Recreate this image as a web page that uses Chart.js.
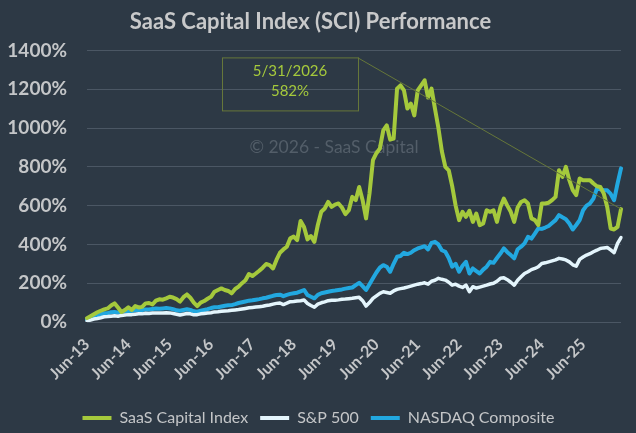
<!DOCTYPE html>
<html>
<head>
<meta charset="utf-8">
<title>SaaS Capital Index (SCI) Performance</title>
<script src="https://cdn.jsdelivr.net/npm/chart.js@4.4.1/dist/chart.umd.min.js"></script>
<style>
    html, body { margin: 0; padding: 0; background: #2d3945; }
    #chart-wrap { width: 636px; height: 433px; position: relative; }
</style>
</head>
<body>
<div id="chart-wrap"><canvas id="line-chart"></canvas></div>
<script>
// monthly series, Jun 2013 .. May 2026 (cumulative % return)
const startYear = 2013;
const startMonth = 5; // June, 0-based
const monthNames = ['Jan', 'Feb', 'Mar', 'Apr', 'May', 'Jun', 'Jul', 'Aug', 'Sep', 'Oct', 'Nov', 'Dec'];

const sciValues = [
    20, 30, 40, 50, 58, 65, 70, 85, 96, 75,
    52, 62, 76, 62, 82, 75, 78, 96, 98, 90,
    110, 117, 115, 122, 130, 126, 118, 105, 128, 142,
    125, 100, 82, 100, 108, 120, 130, 156, 165, 173,
    165, 160, 148, 170, 182, 200, 215, 247, 237, 250,
    264, 280, 299, 293, 276, 320, 357, 374, 388, 431,
    440, 422, 521, 490, 426, 443, 413, 500, 568, 585,
    619, 593, 605, 611, 590, 556, 576, 645, 628, 696,
    628, 534, 662, 834, 870, 894, 988, 1014, 940, 945,
    1203, 1220, 1194, 1100, 1126, 1065, 1194, 1220, 1246, 1157,
    1203, 1100, 1000, 880, 800, 782, 700, 600, 525, 568,
    542, 573, 516, 559, 499, 508, 576, 568, 576, 516,
    593, 636, 600, 568, 516, 590, 619, 628, 611, 534,
    525, 499, 611, 611, 615, 628, 645, 782, 748, 800,
    731, 680, 654, 740, 731, 731, 731, 714, 700, 696,
    662, 593, 482, 477, 490, 582
];

const spValues = [
    5, 10, 15, 18, 22, 27, 28, 30, 32, 30,
    34, 36, 38, 38, 40, 42, 42, 45, 44, 46,
    47, 46, 47, 48, 47, 44, 40, 36, 40, 44,
    42, 37, 38, 42, 44, 46, 48, 52, 53, 55,
    57, 58, 60, 62, 64, 67, 70, 73, 75, 77,
    79, 81, 85, 88, 92, 96, 98, 90, 97, 105,
    106, 108, 110, 113, 95, 85, 76, 92, 99, 104,
    110, 112, 112, 114, 117, 118, 120, 122, 125, 127,
    110, 82, 100, 122, 135, 148, 156, 152, 148, 160,
    168, 172, 175, 180, 185, 190, 195, 198, 202, 195,
    210, 215, 225, 220, 216, 205, 190, 195, 185, 178,
    190, 156, 182, 175, 180, 185, 190, 196, 200, 210,
    225, 228, 218, 205, 190, 215, 233, 250, 259, 270,
    276, 285, 302, 305, 310, 315, 320, 328, 325, 320,
    310, 295, 288, 323, 335, 345, 352, 362, 370, 379,
    382, 384, 372, 357, 405, 435
];

const nasdaqValues = [
    12, 20, 28, 35, 40, 45, 45, 50, 52, 48,
    53, 55, 58, 57, 60, 62, 62, 65, 64, 67,
    70, 68, 70, 72, 70, 66, 60, 58, 62, 66,
    62, 55, 53, 58, 62, 66, 72, 76, 76, 80,
    84, 86, 87, 92, 98, 102, 106, 110, 112, 115,
    118, 122, 125, 130, 135, 139, 141, 133, 140, 145,
    148, 151, 158, 165, 139, 130, 122, 140, 148, 152,
    156, 160, 162, 165, 168, 172, 175, 178, 190, 202,
    185, 165, 195, 225, 255, 280, 293, 285, 259, 300,
    336, 340, 357, 350, 357, 370, 379, 385, 391, 374,
    408, 413, 400, 370, 362, 330, 285, 300, 259, 290,
    310, 250, 276, 262, 250, 270, 285, 310, 305, 330,
    353, 379, 360, 345, 328, 375, 388, 405, 439, 430,
    456, 482, 480, 487, 495, 510, 525, 551, 540, 530,
    508, 477, 500, 525, 576, 600, 611, 636, 688, 684,
    679, 679, 660, 628, 714, 792
];

const seriesNames = ['SaaS Capital Index', 'S&P 500', 'NASDAQ Composite'];
const yMax = 1400;
const yStep = 200;
const noteDate = '5/31/2026';
const watermark = '\u00A9 2026 - SaaS Capital';

(() => {
    'use strict';

    // month labels like "Jun-13"
    let labels = [];
    for (let i = 0; i < sciValues.length; i++) {
        let m = (startMonth + i) % 12;
        let y = startYear + Math.floor((startMonth + i) / 12);
        labels.push(monthNames[m] + '-' + String(y).slice(2));
    }

    const textColor = '#c4c6c8';
    const gridColor = '#4b5764';

    // watermark behind the lines, callout box on top
    const notePlugin = {
        id: 'note',
        afterLayout(chart) {
            // legend sits a bit right of the canvas centre
            chart.legend.left += 8;
            chart.legend.right += 8;
        },
        beforeDatasetsDraw(chart) {
            const {ctx, chartArea} = chart;
            ctx.save();
            ctx.font = '17.5px Lato';
            ctx.fillStyle = '#535e69';
            ctx.textAlign = 'center';
            ctx.textBaseline = 'middle';
            ctx.fillText(watermark, chartArea.left + 247, chartArea.top + 97);
            ctx.restore();
        },
        afterDatasetsDraw(chart) {
            const {ctx, chartArea, scales} = chart;
            let last = sciValues.length - 1;
            let px = scales.x.getPixelForValue(last);
            let py = scales.y.getPixelForValue(sciValues[last]);
            let bx = chartArea.left + 135;
            let by = chartArea.top + 7;
            let bw = 136;
            let bh = 53;

            ctx.save();
            ctx.strokeStyle = '#66773a';
            ctx.lineWidth = 1;
            ctx.beginPath();
            ctx.moveTo(bx + bw, by + 0.5);
            ctx.lineTo(px, py);
            ctx.stroke();
            ctx.strokeRect(bx + 0.5, by + 0.5, bw, bh);

            ctx.fillStyle = '#a5c93c';
            ctx.font = '15px Lato';
            ctx.textAlign = 'center';
            ctx.textBaseline = 'middle';
            ctx.fillText(noteDate, bx + bw / 2, by + 14);
            ctx.fillText(Math.round(sciValues[last]) + '%', bx + bw / 2, by + 34);
            ctx.restore();
        }
    };

    const lineData = {
        labels: labels,
        datasets: [
            {
                label: seriesNames[0],
                data: sciValues,
                borderColor: '#a5c93c',
                backgroundColor: '#a5c93c',
                borderWidth: 4
            },
            {
                label: seriesNames[1],
                data: spValues,
                borderColor: '#e4f5fc',
                backgroundColor: '#e4f5fc',
                borderWidth: 3.5
            },
            {
                label: seriesNames[2],
                data: nasdaqValues,
                borderColor: '#22a8e0',
                backgroundColor: '#22a8e0',
                borderWidth: 4
            }
        ]
    };

    const lineConfig = {
        type: 'line',
        data: lineData,
        options: {
            responsive: true,
            maintainAspectRatio: false,
            animation: false,
            devicePixelRatio: 1,
            layout: {
                padding: {left: 0, right: 15, top: 0, bottom: -3}
            },
            elements: {
                point: {radius: 0},
                line: {tension: 0, borderJoinStyle: 'round', borderCapStyle: 'round'}
            },
            plugins: {
                title: {
                    display: true,
                    text: 'SaaS Capital Index (SCI) Performance',
                    color: '#c8c9ca',
                    font: {family: 'Lato', size: 22, weight: 'bold'},
                    padding: {top: 9, bottom: 15}
                },
                legend: {
                    position: 'bottom',
                    labels: {
                        color: textColor,
                        font: {family: 'Lato', size: 16},
                        boxWidth: 29,
                        boxHeight: 4,
                        padding: 12,
                        generateLabels: (chart) => Chart.defaults.plugins.legend.labels.generateLabels(chart)
                            .map(item => Object.assign(item, {lineWidth: 0}))
                    }
                },
                tooltip: {enabled: false}
            },
            scales: {
                x: {
                    offset: false,
                    grid: {display: false, drawTicks: false},
                    border: {display: false},
                    ticks: {
                        autoSkip: false,
                        minRotation: 45,
                        maxRotation: 45,
                        padding: 13,
                        color: textColor,
                        font: {family: 'Lato', size: 16, weight: 'bold'},
                        callback: function (value, index) {
                            return index % 12 === 0 ? this.getLabelForValue(value) : null;
                        }
                    },
                    afterFit: (scale) => { scale.height = 76; }
                },
                y: {
                    min: 0,
                    max: yMax,
                    grid: {color: gridColor, lineWidth: 1, drawTicks: false},
                    border: {display: false},
                    ticks: {
                        stepSize: yStep,
                        padding: 20,
                        color: textColor,
                        font: {family: 'Lato', size: 19, weight: 'bold'},
                        callback: (value) => value + '%'
                    },
                    afterFit: (scale) => { scale.width = 87; }
                }
            }
        },
        plugins: [notePlugin]
    };

    new Chart(document.getElementById('line-chart').getContext('2d'), lineConfig);
})();
</script>
</body>
</html>
